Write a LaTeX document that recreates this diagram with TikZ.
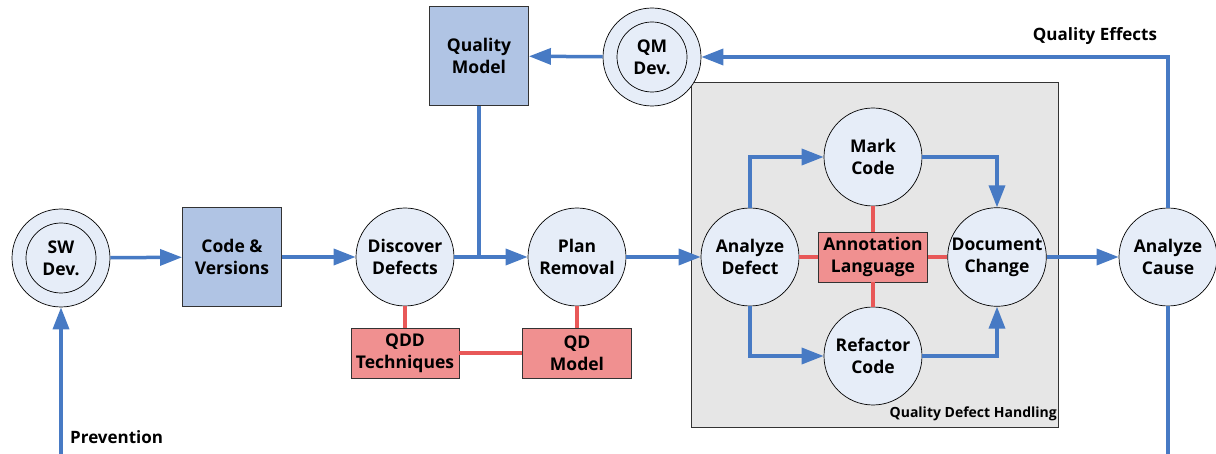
\documentclass[tikz,border=0pt]{standalone}
\usepackage{fontspec}
\setmainfont{Open Sans}
\usetikzlibrary{arrows.meta}
\definecolor{flowblue}{RGB}{71,122,196}
\definecolor{circfill}{RGB}{230,237,248}
\definecolor{boxblue}{RGB}{176,196,228}
\definecolor{redfill}{RGB}{240,144,144}
\definecolor{redline}{RGB}{232,88,88}
\definecolor{grayfill}{RGB}{230,230,230}
\begin{document}
\begin{tikzpicture}[x=1pt,y=-1pt,
  every node/.style={font=\bfseries\fontsize{17.5}{22}\selectfont, align=center, inner sep=0pt},
  proc/.style={circle, draw=black, line width=0.7pt, fill=circfill, minimum size=98pt},
  inner/.style={circle, draw=black, line width=0.7pt, minimum size=70pt},
  store/.style={rectangle, draw=black!80, line width=0.9pt, fill=boxblue, minimum width=99pt, minimum height=99pt},
  redbox/.style={rectangle, draw=black!80, line width=0.9pt, fill=redfill, minimum width=109pt, minimum height=50pt},
  flow/.style={draw=flowblue, line width=3.5pt, -{Triangle[length=22pt,width=16pt]}},
  flowline/.style={draw=flowblue, line width=3.5pt},
  link/.style={draw=redline, line width=3.5pt},
  lbl/.style={font=\bfseries\fontsize{17}{20}\selectfont}]
\useasboundingbox (0,0) rectangle (1216,454);
% gray container
\node[draw=black!80, line width=0.9pt, fill=grayfill, minimum width=367pt, minimum height=345pt, anchor=north west] (qdh) at (691,82) {};
\node[font=\bfseries\fontsize{14}{16}\selectfont, anchor=south east] (qdhl) at (1057,421) {Quality Defect Handling};
% nodes
\node[proc] (sw) at (61,258) {};
\node[inner] (swi) at (61,258) {SW\\Dev.};
\node[store] (cv) at (232,257) {Code \&\\Versions};
\node[proc] (dd) at (405,257) {Discover\\Defects};
\node[store] (qm) at (479,56) {Quality\\Model};
\node[proc] (qmd) at (652,57) {};
\node[inner] (qmdi) at (652,57) {QM\\Dev.};
\node[proc] (pr) at (577,257) {Plan\\Removal};
\node[proc] (ad) at (750,257) {Analyze\\Defect};
\node[proc] (mc) at (873,157) {Mark\\Code};
\node[proc] (rc) at (873,356) {Refactor\\Code};
\node[proc] (dc) at (997,257) {Document\\Change};
\node[redbox, minimum width=109pt, minimum height=50pt] (al) at (873,257) {Annotation\\Language};
\node[proc] (ac) at (1168,257) {Analyze\\Cause};
\node[redbox, minimum width=108pt] (qdd) at (405,353) {QDD\\Techniques};
\node[redbox, minimum width=109pt] (qdm) at (577,353) {QD\\Model};
\coordinate (prevstart) at (61,454);
\coordinate (acend) at (1168,454);
\coordinate (qmjoin) at (479,257);
% labels
\node[lbl, anchor=west] (prevl) at (70,437) {Prevention};
\node[lbl] (qel) at (1095,36) {Quality Effects};
% flows
\draw[flow] (sw) -- (cv);
\draw[flow] (cv) -- (dd);
\draw[flow] (dd) -- (pr);
\draw[flowline] (qm.south) -- (qmjoin);
\draw[flow] (pr) -- (ad);
\draw[flow] (dc) -- (ac);
\draw[flow] (qmd) -- (qm);
\draw[flow] (ac.north) |- (qmd.east);
\draw[flowline] (ac.south) -- (acend);
\draw[flow] (prevstart) -- (sw.south);
\draw[flow] (ad.north) |- (mc.west);
\draw[flow] (ad.south) |- (rc.west);
\draw[flow] (mc.east) -| (dc.north);
\draw[flow] (rc.east) -| (dc.south);
% red links
\draw[link] (dd) -- (qdd);
\draw[link] (pr) -- (qdm);
\draw[link] (qdd) -- (qdm);
\draw[link] (ad) -- (al);
\draw[link] (al) -- (dc);
\draw[link] (mc) -- (al);
\draw[link] (al) -- (rc);
\end{tikzpicture}
\end{document}
